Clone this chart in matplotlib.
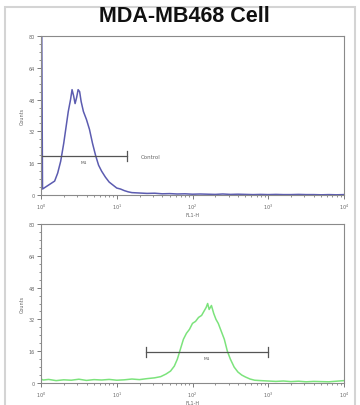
import matplotlib
matplotlib.use("Agg")
import matplotlib.pyplot as plt
from matplotlib.patches import Rectangle
from matplotlib.ticker import FixedLocator, NullFormatter

# ---- data ----
title = "MDA-MB468 Cell"
x_label = "FL1-H"
y_label = "Counts"
y_ticks = [0, 16, 32, 48, 64, 80]
x_decades = [0, 1, 2, 3, 4]

top_log = [0.00, 0.02, 0.06, 0.10, 0.14, 0.18, 0.22, 0.26, 0.30, 0.33,
           0.36, 0.39, 0.41, 0.43, 0.45, 0.47, 0.49, 0.51, 0.53, 0.56,
           0.60, 0.64, 0.68, 0.72, 0.76, 0.80, 0.85, 0.90, 0.95, 1.00,
           1.05, 1.10, 1.15, 1.20, 1.30, 1.40, 1.50, 1.60, 1.70, 1.80,
           1.90, 2.00, 2.10, 2.20, 2.30, 2.40, 2.50, 2.60, 2.70, 2.80,
           2.90, 3.00, 3.10, 3.20, 3.30, 3.40, 3.50, 3.60, 3.70, 3.80,
           3.90, 4.00]
top_cnt = [160, 3, 4, 5, 6, 7, 11, 17, 26, 34,
           42, 48, 53, 50, 46, 49, 53, 52, 47, 42,
           38, 33, 26, 20, 15, 12, 9, 6.5, 5, 3.5,
           3, 2.2, 1.6, 1.2, 1.0, 0.8, 0.9, 0.6, 0.7, 0.5,
           0.6, 0.4, 0.5, 0.4, 0.3, 0.5, 0.3, 0.4, 0.3, 0.2,
           0.3, 0.2, 0.3, 0.2, 0.2, 0.3, 0.2, 0.2, 0.1, 0.2,
           0.1, 0.2]

bot_log = [0.00, 0.03, 0.10, 0.20, 0.30, 0.40, 0.50, 0.60, 0.70, 0.80,
           0.90, 1.00, 1.10, 1.20, 1.30, 1.40, 1.50, 1.58, 1.65, 1.71,
           1.76, 1.80, 1.84, 1.88, 1.92, 1.96, 2.00, 2.04, 2.08, 2.12,
           2.15, 2.18, 2.20, 2.22, 2.25, 2.28, 2.31, 2.34, 2.38, 2.42,
           2.46, 2.50, 2.55, 2.60, 2.65, 2.70, 2.76, 2.82, 2.90, 3.00,
           3.10, 3.20, 3.30, 3.40, 3.50, 3.60, 3.70, 3.80, 3.90, 4.00]
bot_cnt = [2.0, 1.5, 1.8, 1.2, 1.6, 1.4, 1.9, 1.3, 1.7, 1.5,
           1.8, 1.4, 1.6, 2.0, 1.7, 2.2, 2.6, 3.2, 4.5, 6,
           8.5, 12, 17, 22, 25, 27, 30, 31, 33, 34,
           36, 38, 40, 37, 39, 35, 32, 30, 26, 22,
           16, 12, 8, 5.5, 4, 3, 2, 1.4, 1.2, 1.0,
           0.8, 1.0, 0.7, 0.9, 0.6, 0.8, 0.7, 0.6, 0.9, 1.2]

top_marker = (0.0, 1.14, 19.6, "M1", "Control")
bot_marker = (1.38, 3.0, 15.6, "M1", "")

top_color = "#4a4aa8"
bot_color = "#6ee06e"

W, H = 360, 406
fig = plt.figure(figsize=(W / 100, H / 100), dpi=100)
fig.patch.set_facecolor("white")

fig.add_artist(Rectangle((5 / W, -10 / H), 350 / W, 408 / H, transform=fig.transFigure,
                         fill=False, edgecolor="#d4d4d4", lw=1.5))

fig.text(184 / W, 1 - 17 / H, title, ha="center", va="center",
         fontsize=15.5, fontweight="bold", family="Liberation Sans", color="#111111")


def make_axes(top_px, bottom_px, xs, ys, color, marker):
    ax = fig.add_axes([41 / W, 1 - bottom_px / H, 303 / W, (bottom_px - top_px) / H])
    xv = [10 ** v for v in xs]
    ax.plot(xv, ys, color=color, lw=1.1, alpha=0.9)
    ax.set_xscale("log")
    ax.set_xlim(1, 10 ** 4)
    ax.set_ylim(0, 80)
    for s in ax.spines.values():
        s.set_color("#8a8a8a")
        s.set_linewidth(0.8)
    ax.set_yticks(y_ticks)
    ax.set_yticklabels([str(t) for t in y_ticks])
    ax.yaxis.set_minor_locator(FixedLocator([v for v in range(0, 81, 4)]))
    ax.set_xticks([10 ** d for d in x_decades])
    ax.set_xticklabels([r"$10^{%d}$" % d for d in x_decades])
    ax.tick_params(axis="both", which="major", labelsize=3.5, length=3, width=0.6,
                   colors="#666666", pad=1.5, direction="out")
    ax.tick_params(axis="both", which="minor", length=1.5, width=0.5, colors="#666666",
                   direction="out")
    ax.xaxis.set_minor_formatter(NullFormatter())
    ax.set_xlabel(x_label, fontsize=3.5, color="#666666", labelpad=1)
    ax.set_ylabel(y_label, fontsize=3.5, color="#666666", labelpad=3)
    x0, x1, yv, lab, txt = marker
    ax.plot([10 ** x0, 10 ** x1], [yv, yv], color="#555555", lw=0.9)
    ax.plot([10 ** x0, 10 ** x0], [yv - 2.5, yv + 2.5], color="#555555", lw=0.9)
    ax.plot([10 ** x1, 10 ** x1], [yv - 2.5, yv + 2.5], color="#555555", lw=0.9)
    xm = 10 ** ((x0 + x1) / 2)
    ax.text(xm, yv - 2.2, lab, fontsize=3.2, color="#555555", ha="center", va="top")
    if txt:
        ax.text(10 ** (x1 + 0.18), yv, txt, fontsize=4, color="#666666",
                ha="left", va="center")
    return ax


make_axes(37, 196, top_log, top_cnt, top_color, top_marker)
make_axes(225, 384, bot_log, bot_cnt, bot_color, bot_marker)

fig.savefig("out.png", dpi=100, facecolor="white")
